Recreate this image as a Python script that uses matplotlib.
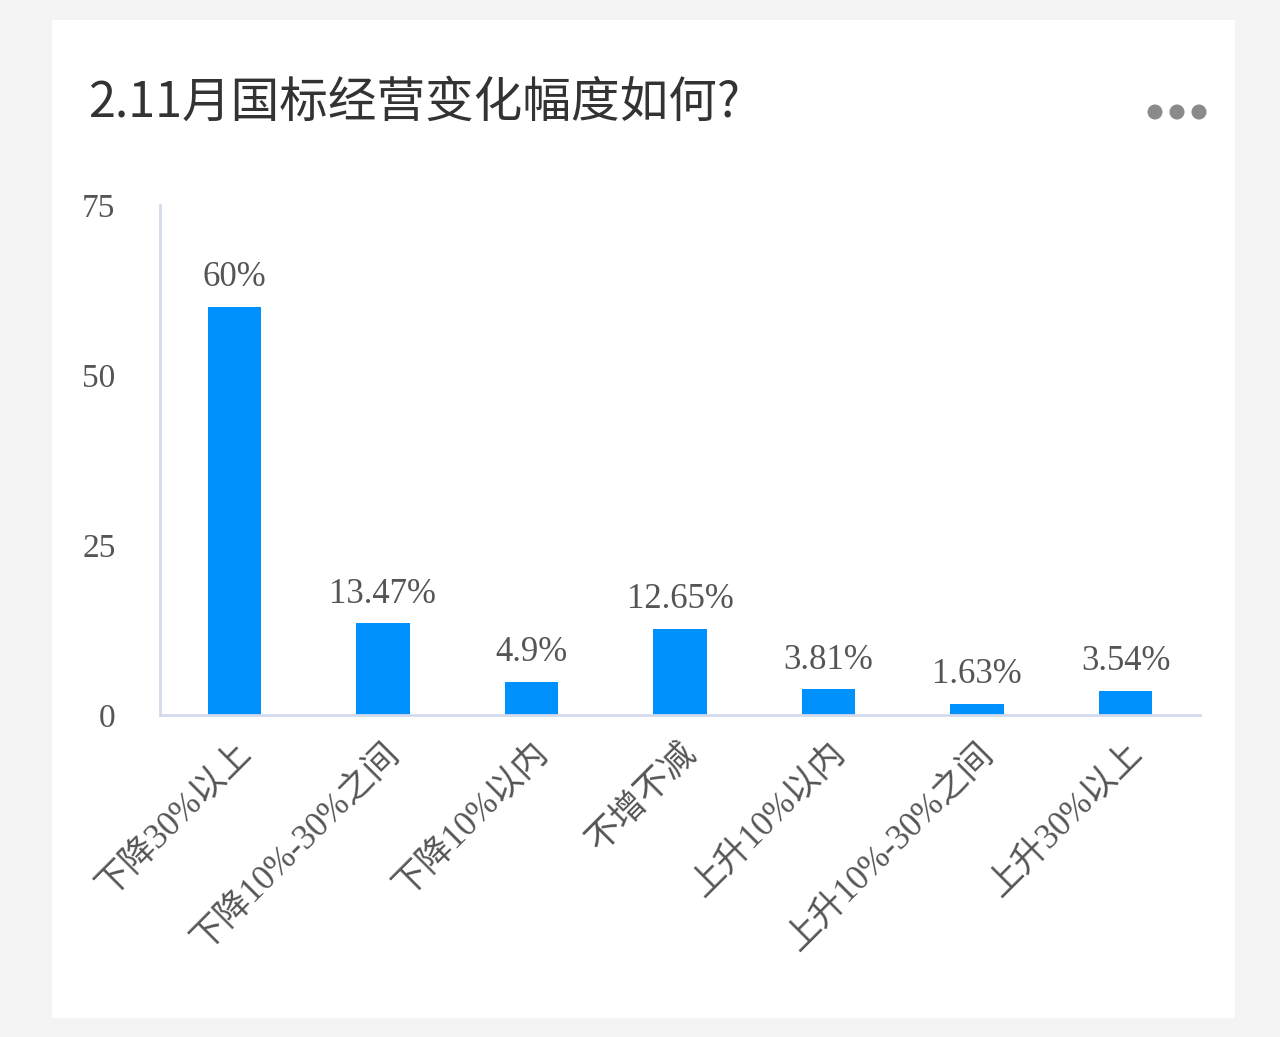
import matplotlib
matplotlib.use("Agg")
import matplotlib.pyplot as plt
from matplotlib.patches import Rectangle, Circle

categories = ["下降30%以上", "下降10%-30%之间", "下降10%以内", "不增不减",
              "上升10%以内", "上升10%-30%之间", "上升30%以上"]
values = [60, 13.47, 4.9, 12.65, 3.81, 1.63, 3.54]
value_labels = ["60%", "13.47%", "4.9%", "12.65%", "3.81%", "1.63%", "3.54%"]
yticks = [0, 25, 50, 75]
title = "2.11月国标经营变化幅度如何?"

serif = ["Liberation Serif", "Noto Sans CJK SC"]
sans = ["Noto Sans CJK SC", "DejaVu Sans"]
bar_color = "#0091ff"
axis_color = "#d3daee"
text_color = "#555555"

W, H = 1280, 1037
fig = plt.figure(figsize=(W / 100, H / 100), dpi=100)
fig.patch.set_facecolor("#f4f4f4")

# white card behind everything (pixel coords via dpi_scale_trans, origin bottom-left)
card = Rectangle((52 / 100, (H - 1018) / 100), (1235 - 52) / 100, (1018 - 20) / 100,
                 transform=fig.dpi_scale_trans, facecolor="white",
                 edgecolor="none", zorder=-10)
fig.add_artist(card)

# menu dots
for cx in [1155, 1177, 1199]:
    fig.add_artist(Circle((cx / 100, (H - 112) / 100), 7.5 / 100,
                          transform=fig.dpi_scale_trans, facecolor="#8a8a8a",
                          edgecolor="none", zorder=-5))

fig.text(88 / W, 1 - 103 / H, title, fontsize=35, color="#333333",
         family=sans, va="center", ha="left")

ax = fig.add_axes([160 / W, 1 - 715 / H, (1200 - 160) / W, (715 - 205) / H])
ax.set_facecolor("none")
ax.set_zorder(5)
x = list(range(len(categories)))
ax.bar(x, values, width=0.36, color=bar_color, zorder=2)
ax.set_xlim(-0.5, len(categories) - 0.5)
ax.set_ylim(0, 75)

for xi, v, lab in zip(x, values, value_labels):
    ax.annotate(lab, (xi, v), xytext=(0, 9), textcoords="offset points",
                ha="center", va="bottom", fontsize=25, color=text_color,
                family=serif)

ax.set_yticks(yticks)
ax.set_yticklabels([str(t) for t in yticks], fontsize=24, color=text_color,
                   family=serif)
ax.set_xticks(x)
ax.set_xticklabels(categories, rotation=45, ha="right", va="top",
                   rotation_mode="anchor", fontsize=25, color=text_color,
                   family=serif)
ax.tick_params(axis="y", length=0, pad=32)
ax.tick_params(axis="x", length=0, pad=16)

for s in ["top", "right"]:
    ax.spines[s].set_visible(False)
for s in ["left", "bottom"]:
    ax.spines[s].set_color(axis_color)
    ax.spines[s].set_linewidth(2)

fig.savefig("out.png", dpi=100, facecolor=fig.get_facecolor())
